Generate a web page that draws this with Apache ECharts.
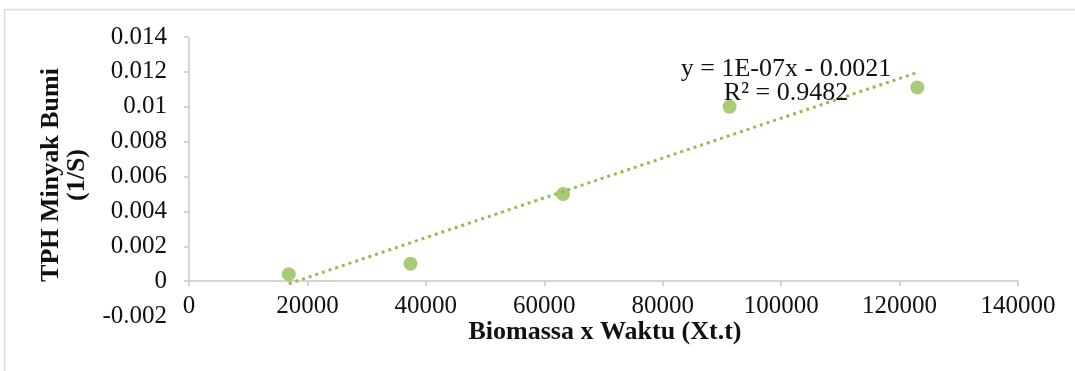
<!DOCTYPE html>
<html>
<head>
<meta charset="utf-8">
<script src="https://cdn.jsdelivr.net/npm/echarts@6/dist/echarts.min.js"></script>
<style>
  html, body { margin: 0; padding: 0; background: #fff; }
  #chart { width: 1075px; height: 371px; }
</style>
</head>
<body>
<div id="chart"></div>
<script>
// Biomass x time against petroleum TPH rate
const biomassaWaktu = [16850, 37400, 63170, 91300, 123000];
const tphRate = [0.0004, 0.001, 0.005, 0.01, 0.0111];

const xTicks = [0, 20000, 40000, 60000, 80000, 100000, 120000, 140000];
const yTicks = [-0.002, 0, 0.002, 0.004, 0.006, 0.008, 0.01, 0.012, 0.014];
const yTickLabels = ['-0.002', '0', '0.002', '0.004', '0.006', '0.008', '0.01', '0.012', '0.014'];

const equationText = 'y = 1E-07x - 0.0021';
const r2Text = 'R\u00B2 = 0.9482';

// least-squares linear trendline over the plotted points
function linearFit(xs, ys) {
  const n = xs.length;
  const mx = xs.reduce((a, b) => a + b, 0) / n;
  const my = ys.reduce((a, b) => a + b, 0) / n;
  let sxy = 0, sxx = 0;
  for (let i = 0; i < n; i++) {
    sxy += (xs[i] - mx) * (ys[i] - my);
    sxx += (xs[i] - mx) * (xs[i] - mx);
  }
  const slope = sxy / sxx;
  return { slope, intercept: my - slope * mx };
}
const fit = linearFit(biomassaWaktu, tphRate);
const xLo = Math.min(...biomassaWaktu);
const xHi = Math.max(...biomassaWaktu);
const trendPoints = [
  [xLo, fit.slope * xLo + fit.intercept],
  [xHi, fit.slope * xHi + fit.intercept]
];

const green = '#94bd55';
const axisGray = '#c8c8c8';
const textColor = '#111111';
const serif = '"Liberation Serif", "Times New Roman", serif';

const chart = echarts.init(document.getElementById('chart'), null, { renderer: 'canvas' });

chart.setOption({
  animation: false,
  backgroundColor: '#ffffff',
  grid: { left: 189, right: 57, top: 37, bottom: 55, containLabel: false, outerBoundsMode: 'none' },
  graphic: [
    {
      type: 'rect',
      shape: { x: 4.5, y: 9.5, width: 1100, height: 400 },
      style: { fill: 'none', stroke: '#dcdcdc', lineWidth: 1.5 },
      silent: true,
      z: -10
    },
    {
      type: 'text',
      x: 64, y: 175,
      rotation: Math.PI / 2,
      style: {
        text: 'TPH Minyak Bumi\n(1/S)',
        font: 'bold 26px ' + serif,
        fill: textColor,
        align: 'center',
        verticalAlign: 'middle',
        lineHeight: 26
      }
    },
    {
      type: 'text',
      x: 605, y: 332,
      style: {
        text: 'Biomassa x Waktu (Xt.t)',
        font: 'bold 26px ' + serif,
        fill: textColor,
        align: 'center',
        verticalAlign: 'middle'
      }
    },
    {
      type: 'text',
      x: 786, y: 57,
      style: {
        text: equationText + '\n' + r2Text,
        font: '26px ' + serif,
        fill: textColor,
        align: 'center',
        verticalAlign: 'top',
        lineHeight: 24
      },
      z: 20
    }
  ],
  xAxis: {
    type: 'value',
    min: xTicks[0],
    max: xTicks[xTicks.length - 1],
    interval: 20000,
    axisLine: { show: true, onZero: true, lineStyle: { color: axisGray, width: 1.5 } },
    axisTick: { show: true, length: 5, inside: false, lineStyle: { color: axisGray, width: 1.5 } },
    axisLabel: {
      fontFamily: serif, fontSize: 25, color: textColor, margin: -22,
      formatter: v => String(xTicks.find(t => t === v) ?? v)
    },
    splitLine: { show: false }
  },
  yAxis: {
    type: 'value',
    min: yTicks[0],
    max: yTicks[yTicks.length - 1],
    interval: 0.002,
    axisLine: { show: false },
    axisTick: {
      show: true, length: 5, inside: false,
      customValues: yTicks.filter(v => v >= 0),
      lineStyle: { color: axisGray, width: 1.5 }
    },
    axisLabel: {
      fontFamily: serif, fontSize: 25, color: textColor, margin: 22,
      formatter: v => {
        const i = yTicks.findIndex(t => Math.abs(t - v) < 1e-9);
        return i >= 0 ? yTickLabels[i] : String(v);
      }
    },
    splitLine: { show: false }
  },
  series: [
    {
      type: 'scatter',
      data: biomassaWaktu.map((x, i) => [x, tphRate[i]]),
      symbol: 'circle',
      symbolSize: 14,
      itemStyle: { color: green },
      z: 3,
      markLine: {
        silent: true,
        symbol: 'none',
        label: { show: false },
        lineStyle: { color: axisGray, width: 1.5, type: 'solid' },
        data: [[{ coord: [0, 0] }, { coord: [0, yTicks[yTicks.length - 1]] }]]
      }
    },
    {
      type: 'line',
      data: trendPoints,
      symbol: 'none',
      lineStyle: { color: green, width: 3, type: [3, 4], cap: 'butt' },
      z: 4
    }
  ]
});
</script>
</body>
</html>
